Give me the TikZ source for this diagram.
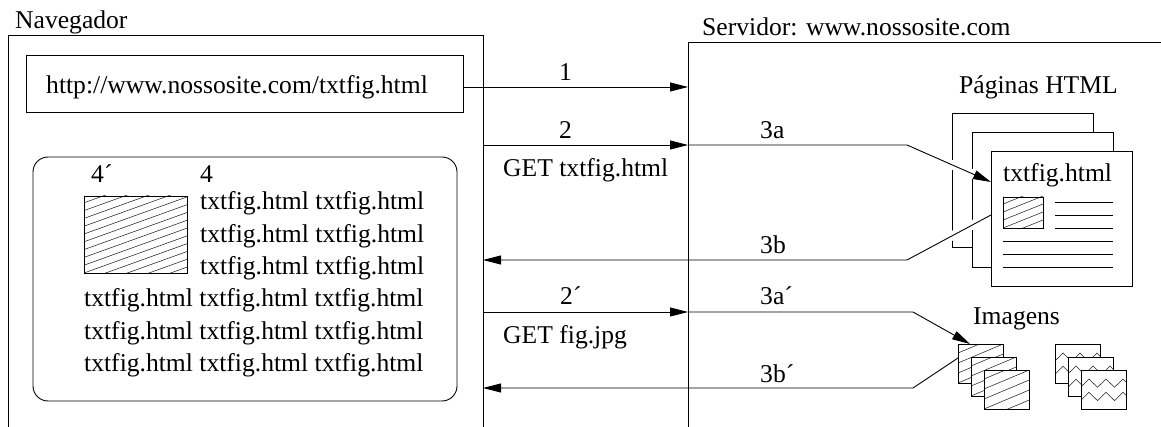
\documentclass[tikz,border=0pt]{standalone}
\usepackage{fontspec}
\setmainfont{Liberation Serif}
\usetikzlibrary{arrows.meta}

\pgfdeclarelayer{sheets}
\pgfdeclarelayer{wires}
\pgfsetlayers{sheets,wires,main}

\tikzset{
  lbl/.style={anchor=base west, inner sep=0pt, font=\fontsize{25.6}{30}\selectfont},
  wire/.style={line width=0.9pt},
  conn/.style={wire, -{Triangle[length=18pt,width=9pt]}},
  halo/.style={draw=white, line width=9pt},
  sheet/.style={draw, line width=0.9pt, fill=white, inner sep=0pt, outer sep=0pt},
  hatchln/.style={line width=0.55pt, black!85},
  % diagonal hatching: #1 = vertical spacing, #2 = slope
  hatched/.style 2 args={path picture={
    \foreach \k in {-16,...,16}
      \draw[hatchln] ([yshift=\k*#1 pt]path picture bounding box.south west)
        -- ++(130,-#2*130);}},
  % two rows of zig-zag
  zigzag/.style={path picture={
    \foreach \r in {0,13.3}
      \draw[hatchln] ([xshift=-0.5pt,yshift=-17.3pt-\r pt]path picture bounding box.north west)
        \foreach \j in {1,...,3} { -- ++(8.5,-8.3) -- ++(8.5,8.3) };}},
}

\begin{document}
\begin{tikzpicture}[x=1pt,y=-1pt]
\useasboundingbox (0,0) rectangle (1161,427);

% ---- browser side ----
\draw[wire] (8,427) -- (8,35) -- (483,35) -- (483,427);
\node[lbl] (nav) at (15,28.3) {Navegador};

\node[sheet, minimum width=437, minimum height=57] (url) at (244.5,83.5) {};
\node[lbl] (urltxt) at (46,94) {http://www.nossosite.com/txtfig.html};

\node[sheet, rounded corners=15pt, minimum width=424, minimum height=244] (scr) at (245,279) {};
\node[lbl] (l4p) at (91,183) {4´};
\node[lbl] (l4) at (200,183) {4};
\node[sheet, minimum width=103, minimum height=77, hatched={7.8}{0.36}] (fig) at (135.5,234.5) {};
\node[lbl] (t1) at (200,210) {txtfig.html txtfig.html};
\node[lbl] (t2) at (200,242.3) {txtfig.html txtfig.html};
\node[lbl] (t3) at (200,274.6) {txtfig.html txtfig.html};
\node[lbl] (t4) at (84,306.9) {txtfig.html txtfig.html txtfig.html};
\node[lbl] (t5) at (84,339.2) {txtfig.html txtfig.html txtfig.html};
\node[lbl] (t6) at (84,371.5) {txtfig.html txtfig.html txtfig.html};

% ---- server side ----
\draw[wire] (688,427) -- (688,42) -- (1161,42);
\node[lbl] (srv) at (702,35.7) {Servidor: www.nossosite.com};

\node[lbl] (pages) at (959,94) {Páginas HTML};
\begin{pgfonlayer}{sheets}
  \node[sheet, minimum width=141, minimum height=134] (pgA) at (1022.5,180) {};
  \node[sheet, minimum width=141, minimum height=135] (pgB) at (1042.5,199.5) {};
\end{pgfonlayer}
\node[sheet, minimum width=141, minimum height=135] (pgC) at (1061.5,218.5) {};
\node[lbl] (pgtxt) at (1003,182) {txtfig.html};
\node[sheet, minimum width=40, minimum height=31, hatched={8}{0.4}] (pgfig) at (1023,212.5) {};
\foreach \yy in {202,215,228}
  \draw[wire] (1055,\yy) -- (1113,\yy);
\foreach \yy in {241,254,267}
  \draw[wire] (1003,\yy) -- (1113,\yy);

\node[lbl] (imgs) at (973,324) {Imagens};
\node[sheet, minimum width=45, minimum height=39, hatched={10}{0.42}] (imA) at (980.5,363.5) {};
\node[sheet, minimum width=45, minimum height=39, hatched={10}{0.42}] (imB) at (993.5,376.5) {};
\node[sheet, minimum width=45, minimum height=39, hatched={10}{0.42}] (imC) at (1006.5,389.5) {};
\node[sheet, minimum width=45, minimum height=39, zigzag] (zgA) at (1077.5,363.5) {};
\node[sheet, minimum width=45, minimum height=39, zigzag] (zgB) at (1090.5,376.5) {};
\node[sheet, minimum width=45, minimum height=39, zigzag] (zgC) at (1103.5,389.5) {};

% ---- message labels ----
\node[lbl] (m1) at (559,81) {1};
\node[lbl] (m2) at (559,139) {2};
\node[lbl] (get1) at (503,177) {GET txtfig.html};
\node[lbl] (m3a) at (760,139) {3a};
\node[lbl] (m3b) at (760,254) {3b};
\node[lbl] (m2p) at (560,305) {2´};
\node[lbl] (get2) at (503,343) {GET fig.jpg};
\node[lbl] (m3ap) at (760,305) {3a´};
\node[lbl] (m3bp) at (760,382) {3b´};

% ---- connector end points on the window edges ----
\coordinate (s1) at (688,87);
\coordinate (n2) at (483,145);
\coordinate (s2) at (688,145);
\coordinate (k2) at (907,145);
\coordinate (n3b) at (483,260);
\coordinate (k3b) at (907,260);
\coordinate (n2p) at (483,312);
\coordinate (s2p) at (688,312);
\coordinate (k2p) at (913,312);
\coordinate (n3bp) at (483,388);
\coordinate (k3bp) at (913,388);

\begin{pgfonlayer}{wires}
  % white gaps where the links cross the stacked pages
  \draw[halo] (k2) -- ([yshift=-31pt]pgC.north west);
  \draw[halo] ([yshift=-64pt]pgC.north west) -- (k3b);
  % 1: typed address
  \draw[conn] ([yshift=-3.5pt]url.east) -- (s1);
  % 2 / 3a: request for the page
  \draw[conn] (n2) -- (s2);
  \draw[conn] (s2) -- (k2) -- ([yshift=-31pt]pgC.north west);
  % 3b: page sent back
  \draw[conn] ([yshift=-64pt]pgC.north west) -- (k3b) -- (n3b);
  % 2' / 3a': request for the image
  \draw[conn] (n2p) -- (s2p);
  \draw[conn] (s2p) -- (k2p) -- ([xshift=12pt]imA.north west);
  % 3b': image sent back
  \draw[conn] ([yshift=-14pt]imA.north west) -- (k3bp) -- (n3bp);
\end{pgfonlayer}
\end{tikzpicture}
\end{document}
